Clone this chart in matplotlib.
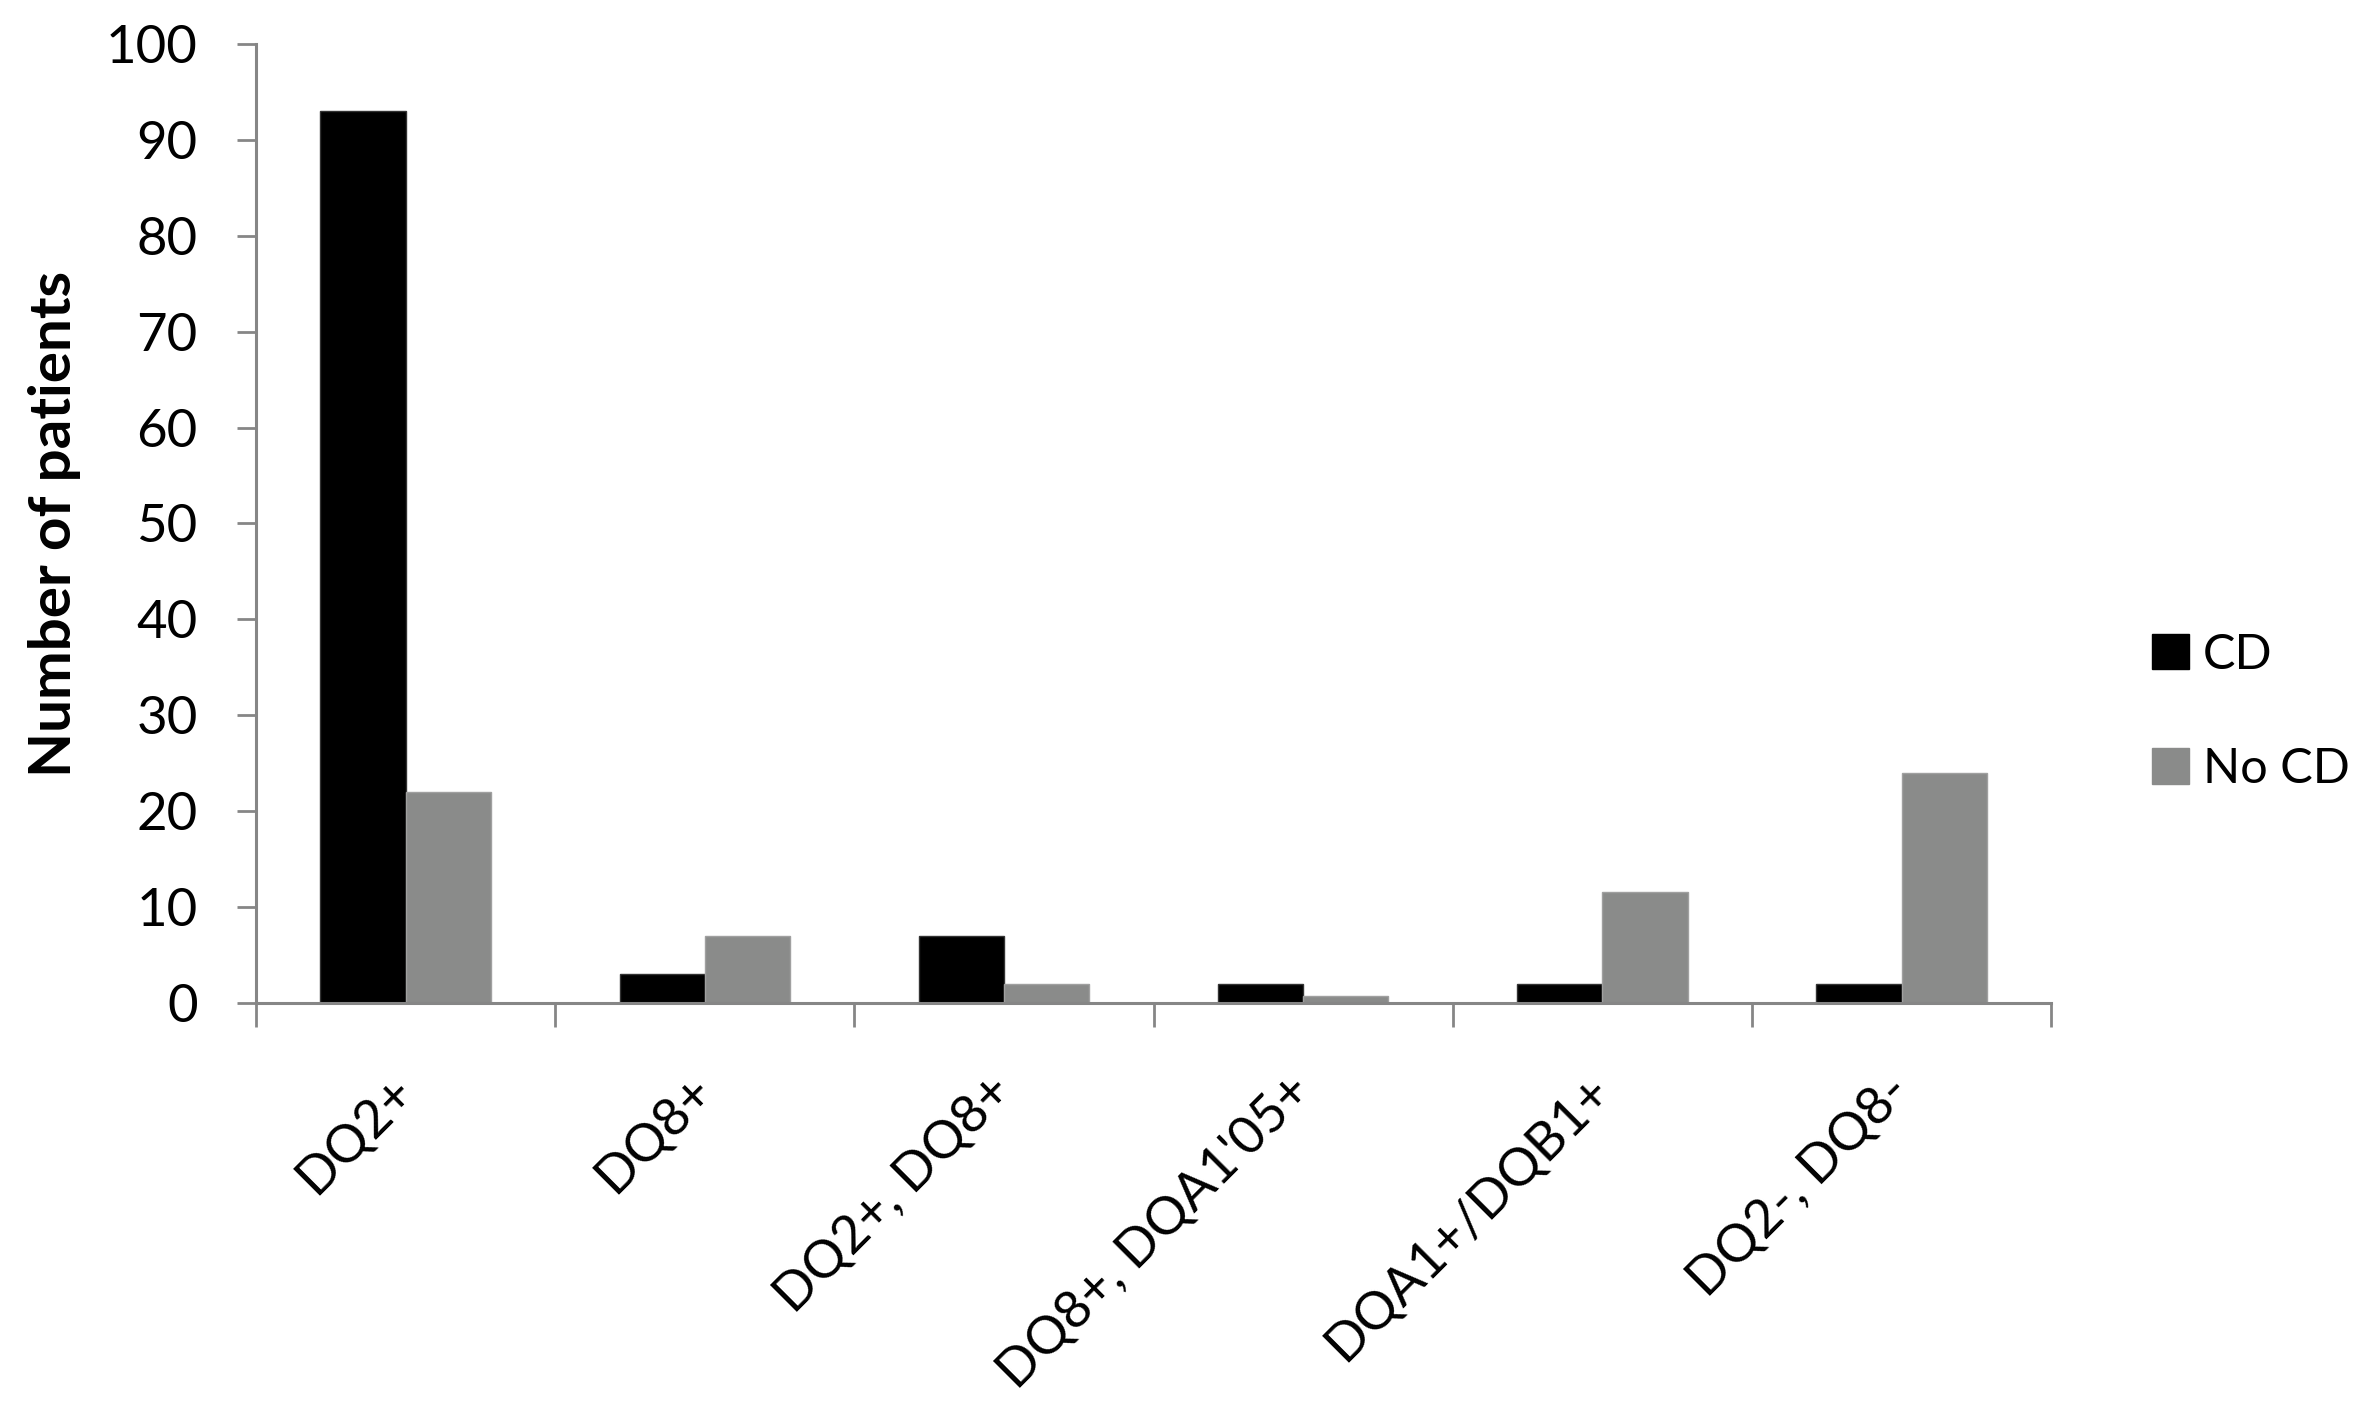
import numpy as np
import matplotlib
matplotlib.use('Agg')
import matplotlib.pyplot as plt
from matplotlib.patches import Patch

plt.rcParams['font.family'] = ['Lato', 'DejaVu Sans']

categories = ['DQ2+', 'DQ8+', 'DQ2+, DQ8+', "DQ8+, DQA1'05+", 'DQA1+/DQB1+', 'DQ2-, DQ8-']
cd_values = [93, 3, 7, 2, 2, 2]
no_cd_values = [22, 7, 2, 0.7, 11.6, 24]
series_names = ['CD', 'No CD']

BLACK = '#000000'
GREY = '#8a8b8a'
AXIS = '#868686'
BAR_W = 0.285


def draw_bars(ax):
    x = np.arange(len(categories))
    ax.bar(x - BAR_W / 2, cd_values, BAR_W, color=BLACK, edgecolor='#333333', linewidth=1)
    ax.bar(x + BAR_W / 2, no_cd_values, BAR_W, color=GREY, edgecolor='#a0a0a0', linewidth=1)
    return x


def style_axes(ax, x):
    ax.set_xlim(-0.5, len(categories) - 0.5)
    ax.set_ylim(0, 100)
    ax.set_yticks(np.arange(0, 101, 10))
    for side in ['top', 'right']:
        ax.spines[side].set_visible(False)
    for side in ['left', 'bottom']:
        ax.spines[side].set_color(AXIS)
        ax.spines[side].set_linewidth(2.2)
    ax.tick_params(axis='y', direction='out', length=14, width=2, color=AXIS,
                   labelsize=38, pad=28)
    # labels at category centres, tick marks at the category boundaries
    ax.set_xticks(x)
    ax.set_xticklabels(categories, rotation=45, ha='right', va='center',
                       rotation_mode='anchor', fontsize=38)
    ax.tick_params(axis='x', which='major', length=0, pad=58)
    ax.set_xticks(np.arange(-0.5, len(categories)), minor=True)
    ax.tick_params(axis='x', which='minor', direction='out', length=17, width=2, color=AXIS)
    ax.set_ylabel('Number of patients', fontsize=42, fontweight='bold', labelpad=18)


def run():
    fig = plt.figure(figsize=(23.77, 14.15), dpi=100)
    ax = fig.add_axes([0.1077, 0.2912, 0.7552, 0.6777])
    x = draw_bars(ax)
    style_axes(ax, x)
    handles = [Patch(facecolor=BLACK, edgecolor=BLACK), Patch(facecolor=GREY, edgecolor=GREY)]
    fig.legend(handles, series_names, loc='center left', bbox_to_anchor=(0.887, 0.497),
               frameon=False, fontsize=35, handlelength=0.75, handleheight=0.75,
               handletextpad=0.3, labelspacing=1.45)
    fig.savefig('out.png', dpi=100)


if __name__ == '__main__':
    run()
